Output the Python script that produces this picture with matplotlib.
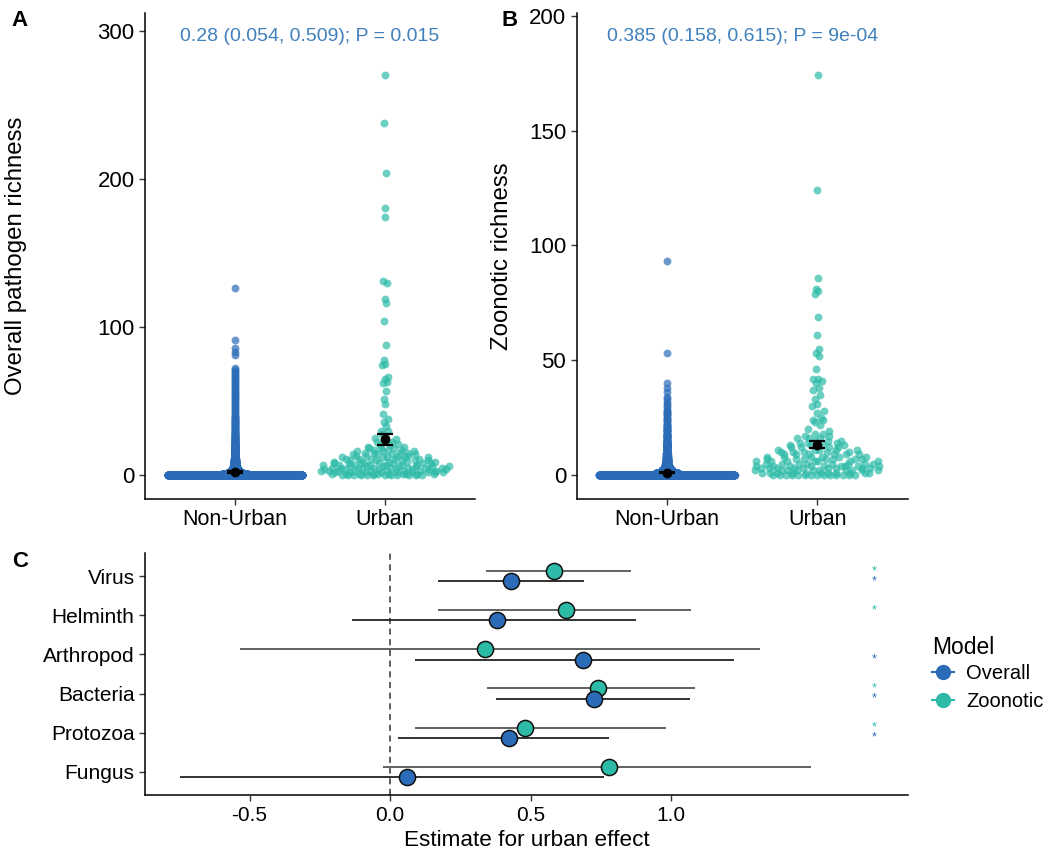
import numpy as np
import matplotlib
matplotlib.use("Agg")
import matplotlib.pyplot as plt
from matplotlib.lines import Line2D
from matplotlib.ticker import FuncFormatter

plt.rcParams['font.family'] = ['Liberation Sans', 'DejaVu Sans']
plt.rcParams['axes.unicode_minus'] = False

# ============================================================
# data
# ============================================================
groups = ["Non-Urban", "Urban"]

# --- A: overall pathogen richness ---
# hosts per richness value (index = richness 0, 1, 2, ...)
nonurban_all_counts = [1500, 280, 140, 90, 62, 46, 36, 29, 24, 20,
                       17, 14, 12, 11, 10, 9, 8, 7, 6, 6,
                       5, 5, 4, 4, 4, 3, 3, 3, 3, 3,
                       2, 2, 2, 2, 2, 2, 2, 2, 2, 2,
                       1, 1, 1, 1, 1, 1, 1, 1, 1, 1,
                       1, 1, 1, 1, 1, 1, 1, 1, 1, 1,
                       1, 1, 1, 1, 1, 1, 1, 1, 1, 1,
                       1, 1, 1]
nonurban_all_extra = [81, 83, 86, 91, 126]
urban_all_counts = [12, 10, 9, 9, 8, 8, 7, 7, 6, 6,
                    5, 5, 5, 4, 4, 4, 3, 3, 3, 2,
                    2, 1, 2, 1, 1, 1, 1, 0, 1, 0, 1]
urban_all_extra = [270, 238, 204, 180, 174, 131, 130, 119, 116, 104,
                   88, 78, 75, 74, 66, 65, 63, 62, 57, 51,
                   48, 41, 38, 36, 33, 30]
mean_all = [2.0, 24.1]
se_all = [0.4, 3.7]
label_all = "0.28 (0.054, 0.509); P = 0.015"
label_all_y = 296

# --- B: zoonotic richness ---
nonurban_zoo_counts = [1600, 260, 120, 75, 50, 36, 27, 21, 17, 14,
                       12, 10, 9, 8, 7, 6, 5, 5, 4, 4,
                       3, 3, 3, 2, 2, 2, 2, 2, 2, 1,
                       1, 1, 1, 1, 1]
nonurban_zoo_extra = [36, 38, 40, 53, 93]
urban_zoo_counts = [14, 11, 10, 9, 9, 8, 7, 7, 6, 6,
                    5, 5, 4, 4, 3, 3, 3, 2, 2, 1, 1]
urban_zoo_extra = [174, 124, 86, 81, 80, 79, 69, 61, 55, 53,
                   52, 46, 42, 42, 41, 40, 38, 37, 35, 33,
                   31, 30, 28, 27, 25, 24, 24, 23, 22]
mean_zoo = [1.1, 13.3]
se_zoo = [0.3, 1.7]
label_zoo = "0.385 (0.158, 0.615); P = 9e-04"
label_zoo_y = 191

# --- C: estimate for urban effect by parasite type (bottom to top) ---
parasites = ["Fungus", "Protozoa", "Bacteria", "Arthropod", "Helminth", "Virus"]
overall_est = [0.061, 0.421, 0.726, 0.686, 0.379, 0.430]
overall_lo = [-0.749, 0.029, 0.376, 0.087, -0.136, 0.169]
overall_hi = [0.759, 0.780, 1.068, 1.222, 0.875, 0.690]
zoo_est = [0.777, 0.478, 0.741, 0.338, 0.626, 0.583]
zoo_lo = [-0.025, 0.089, 0.343, -0.534, 0.169, 0.342]
zoo_hi = [1.497, 0.982, 1.085, 1.314, 1.070, 0.857]
overall_sig = [False, True, True, True, False, True]
zoo_sig = [False, True, True, False, True, True]

C_OVERALL = "#2B6CB8"
C_ZOO = "#2DBBA8"
C_TEXT = "#3F80BD"


def expand(counts, extra):
    vals = np.repeat(np.arange(len(counts)), counts)
    return np.concatenate([vals, np.asarray(extra)]).astype(float)


def vdc(n):
    out = np.zeros(n)
    for i in range(n):
        k, f, v = i + 1, 0.5, 0.0
        while k > 0:
            v += f * (k % 2)
            k //= 2
            f /= 2
        out[i] = v
    return out


def quasi_offsets(y, width=0.45):
    # quasirandom (ggbeeswarm-like) horizontal spread
    n = len(y)
    sd = y.std(ddof=1)
    q75, q25 = np.percentile(y, [75, 25])
    lo = min(sd, (q75 - q25) / 1.34) if q75 > q25 else sd
    bw = 0.9 * lo * n ** -0.2
    uniq, inv = np.unique(y, return_inverse=True)
    dens = np.array([np.exp(-0.5 * ((y - u) / bw) ** 2).sum() for u in uniq])
    dens = dens / dens.max()
    order = np.argsort(y, kind="stable")
    off = np.empty(n)
    off[order] = vdc(n) * 2 - 1
    return off * dens[inv] * width


def style_axes(ax):
    for s in ["top", "right"]:
        ax.spines[s].set_visible(False)
    for s in ["left", "bottom"]:
        ax.spines[s].set_linewidth(1.1)
    ax.tick_params(direction="out", length=4, width=1.0, color="#333333")


def swarm_panel(ax, data, means, ses, label, label_y, ylim, yticks, ylabel, lab_x):
    cols = [C_OVERALL, C_ZOO]
    for i, vals in enumerate(data):
        x = i + 1 + quasi_offsets(vals)
        ax.scatter(x, vals, s=32, color=cols[i], alpha=0.7, linewidths=0, zorder=2)
    ax.errorbar([1, 2], means, yerr=ses, fmt="o", color="black", ms=6,
                capsize=6, elinewidth=1.6, capthick=1.6, zorder=5)
    ax.text(1.5, label_y, label, color=C_TEXT, fontsize=14, ha="center", va="center")
    ax.set_xlim(0.4, 2.6)
    ax.set_ylim(*ylim)
    ax.set_xticks([1, 2])
    ax.set_xticklabels(groups, fontsize=15.5)
    ax.set_yticks(yticks)
    ax.tick_params(axis="y", labelsize=16)
    ax.set_ylabel(ylabel, fontsize=17.3)
    ax.yaxis.set_label_coords(lab_x, 0.5)
    style_axes(ax)


W, H = 1053, 855
fig = plt.figure(figsize=(W / 100, H / 100), dpi=100)

axA = fig.add_axes([145 / W, 1 - 498.7 / H, 330 / W, 485.7 / H])
axB = fig.add_axes([576.7 / W, 1 - 498.7 / H, 331 / W, 485.7 / H])
axC = fig.add_axes([145 / W, 1 - 795.3 / H, 763.3 / W, 242.6 / H])

swarm_panel(axA,
            [expand(nonurban_all_counts, nonurban_all_extra), expand(urban_all_counts, urban_all_extra)],
            mean_all, se_all, label_all, label_all_y, (-16, 312), [0, 100, 200, 300],
            "Overall pathogen richness", -0.357)
swarm_panel(axB,
            [expand(nonurban_zoo_counts, nonurban_zoo_extra), expand(urban_zoo_counts, urban_zoo_extra)],
            mean_zoo, se_zoo, label_zoo, label_zoo_y, (-10.3, 201.2), [0, 50, 100, 150, 200],
            "Zoonotic richness", -0.192)

# ---- panel C ----
ypos = np.arange(1, len(parasites) + 1)
dodge = 0.13
axC.axvline(0, color="#333333", lw=1.1, dashes=(4, 3), zorder=1)
axC.hlines(ypos + dodge, zoo_lo, zoo_hi, color="#555555", lw=1.3, zorder=2)
axC.hlines(ypos - dodge, overall_lo, overall_hi, color="#222222", lw=1.3, zorder=2)
axC.scatter(zoo_est, ypos + dodge, s=135, color=C_ZOO, edgecolors="#111111", linewidths=1.1, zorder=3)
axC.scatter(overall_est, ypos - dodge, s=135, color=C_OVERALL, edgecolors="#111111", linewidths=1.1, zorder=4)

for i, y in enumerate(ypos):
    if zoo_sig[i]:
        axC.text(1.72, y + dodge, "*", color=C_ZOO, fontsize=9, ha="center", va="center")
    if overall_sig[i]:
        axC.text(1.72, y - dodge, "*", color=C_OVERALL, fontsize=9, ha="center", va="center")

axC.set_xlim(-0.872, 1.843)
axC.set_ylim(0.4, 6.6)
axC.set_yticks(ypos)
axC.set_yticklabels(parasites, fontsize=15)
axC.set_xticks([-0.5, 0.0, 0.5, 1.0])
axC.xaxis.set_major_formatter(FuncFormatter(lambda v, p: f"{v:.1f}"))
axC.tick_params(axis="x", labelsize=15)
axC.set_xlabel("Estimate for urban effect", fontsize=16.2, labelpad=4)
style_axes(axC)

handles = [
    Line2D([], [], color=C_OVERALL, marker="o", ms=10, lw=1.5, label="Overall"),
    Line2D([], [], color=C_ZOO, marker="o", ms=10, lw=1.5, label="Zoonotic"),
]
leg = fig.legend(handles=handles, title="Model", loc="upper left",
                 bbox_to_anchor=(932 / W, 1 - 632 / H), frameon=False,
                 borderpad=0, borderaxespad=0,
                 fontsize=14.5, title_fontsize=16.5, handlelength=1.1,
                 handletextpad=0.6, labelspacing=0.45, alignment="left")
leg.get_title().set_position((0, -4))

# panel letters
fig.text(20 / W, 1 - 20 / H, "A", fontsize=16, fontweight="bold", ha="center", va="center")
fig.text(510 / W, 1 - 20 / H, "B", fontsize=16, fontweight="bold", ha="center", va="center")
fig.text(20 / W, 1 - 561 / H, "C", fontsize=16, fontweight="bold", ha="center", va="center")

fig.savefig("out.png", dpi=100)
